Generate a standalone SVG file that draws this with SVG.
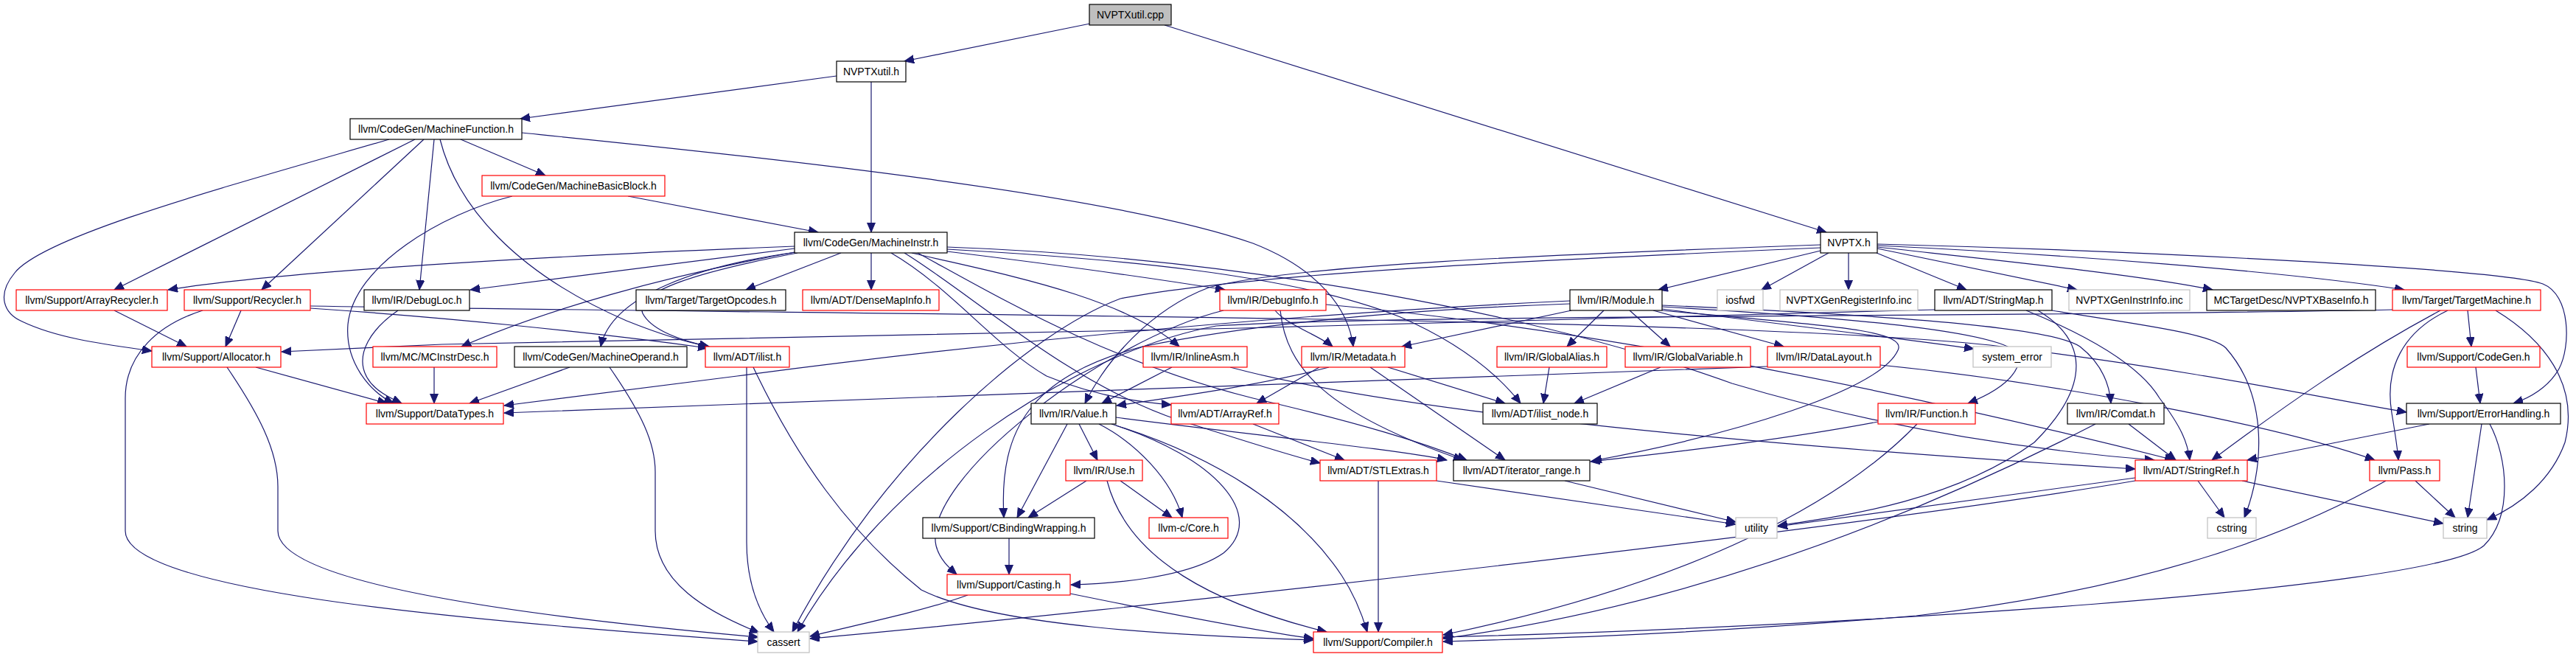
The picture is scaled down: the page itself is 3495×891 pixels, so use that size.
<svg xmlns="http://www.w3.org/2000/svg" width="3495" height="891" viewBox="0 0 3495 891">
<style>
rect{fill:#fff;stroke-width:1.2}
.nb rect{stroke:#000}
.nr rect{stroke:#ff0000}
.ng rect{stroke:#bfbfbf}
.nc rect{fill:#bfbfbf;stroke:#000}
text{font-family:"Liberation Sans",Arial,sans-serif;font-size:14px;text-anchor:middle;fill:#000}
#edges path{fill:none;stroke:#191970;stroke-width:1.2;marker-end:url(#a)}
</style>
<defs>
<marker id="a" markerUnits="userSpaceOnUse" markerWidth="14" markerHeight="12" refX="13" refY="5.5" orient="auto"><path d="M0,0 L13,5.5 L0,11 z" fill="#191970" stroke="#191970" stroke-width="1"/></marker>
</defs>
<rect x="0" y="0" width="3495" height="891" style="fill:#fff;stroke:none"/>
<g id="edges">
<path d="M1479,32 L1227,83"/>
<path d="M1580,34 L2478,315"/>
<path d="M1135,103 L706,161"/>
<path d="M1182,111 L1182,315"/>
<path d="M625,189 L740,238"/>
<path d="M563,189 L155,393"/>
<path d="M575,189 L355,393"/>
<path d="M589,189 L569,393"/>
<path d="M528,189 C300,255 60,320 20,370 C-5,400 5,425 30,436 C80,460 150,468 206,476"/>
<path d="M597,189 C620,280 700,370 850,435 C900,455 935,465 962,470"/>
<path d="M708,180 C1000,210 1500,260 1700,330 C1790,365 1830,420 1836,470"/>
<path d="M852,266 L1110,315"/>
<path d="M695,266 C600,290 480,360 472,440 C468,490 500,530 534,547"/>
<path d="M540,421 C505,445 480,480 498,512 C508,530 530,540 545,547"/>
<path d="M1078,334 C800,345 400,365 228,393"/>
<path d="M1078,337 L638,393"/>
<path d="M1141,343 L1012,393"/>
<path d="M1182,343 L1182,393"/>
<path d="M1285,341 C1400,355 1550,375 1662,393"/>
<path d="M1078,342 C900,375 740,420 626,470"/>
<path d="M1080,342 C950,360 830,400 815,470"/>
<path d="M1082,343 C950,368 860,395 872,425 C885,450 930,463 962,470"/>
<path d="M1237,343 C1350,370 1520,400 1600,470"/>
<path d="M1209,343 C1290,390 1350,470 1420,510 C1480,535 1540,545 1589,549"/>
<path d="M1227,343 C1320,400 1450,520 1600,570 C1680,595 1740,615 1791,628"/>
<path d="M1245,343 C1350,400 1500,490 1700,540 C1850,575 1930,600 1990,624"/>
<path d="M1285,338 C1500,350 1750,370 1900,430 C1980,465 2030,505 2063,547"/>
<path d="M1285,335 C1700,350 2100,430 2350,520 C2550,580 2750,610 2923,624"/>
<path d="M2481,343 L2390,393"/>
<path d="M2508,343 L2508,393"/>
<path d="M2546,343 L2668,393"/>
<path d="M2547,337 L2818,393"/>
<path d="M2547,335 C2700,352 2900,372 3002,393"/>
<path d="M2547,333 C2800,345 3100,368 3262,393"/>
<path d="M2547,331 C2900,340 3400,365 3450,385 C3488,400 3488,470 3472,500 C3458,525 3432,540 3410,547"/>
<path d="M2470,340 L2250,393"/>
<path d="M2470,332 C2100,345 1750,360 1640,390 C1560,420 1500,490 1472,547"/>
<path d="M2470,336 C2100,352 1700,370 1520,405 C1400,450 1200,620 1075,857"/>
<path d="M155,421 L253,470"/>
<path d="M327,421 L306,470"/>
<path d="M275,421 C215,440 170,480 170,540 L170,720 C170,800 600,840 1028,870"/>
<path d="M421,418 C600,430 800,450 960,472"/>
<path d="M421,415 C1200,428 2300,428 2700,468 C3000,505 3150,540 3265,559"/>
<path d="M347,498 L525,547"/>
<path d="M308,498 C350,560 377,610 377,660 L377,720 C377,790 700,835 1029,864"/>
<path d="M589,498 L589,547"/>
<path d="M773,498 L637,547"/>
<path d="M827,498 C870,560 889,600 889,640 L889,720 C889,790 960,830 1030,858"/>
<path d="M1013,498 L1013,735 C1013,790 1030,830 1050,857"/>
<path d="M1022,498 C1080,620 1150,720 1250,800 C1350,850 1600,862 1782,868"/>
<path d="M1730,421 C1745,440 1790,455 1808,470"/>
<path d="M1737,421 C1745,500 1800,560 1985,624"/>
<path d="M1660,421 C1500,460 1250,650 1270,740 C1275,760 1290,772 1298,779"/>
<path d="M1799,413 C2100,440 2500,510 2950,624"/>
<path d="M2132,421 L1902,470"/>
<path d="M2176,421 L2126,470"/>
<path d="M2211,421 L2266,470"/>
<path d="M2243,421 L2420,470"/>
<path d="M2255,419 C2400,438 2550,455 2678,473"/>
<path d="M2255,416 C2500,430 2740,450 2740,485 C2738,515 2700,535 2670,547"/>
<path d="M2255,414 C2500,425 2780,440 2822,470 C2850,492 2862,520 2864,547"/>
<path d="M2255,421 C2450,440 2590,445 2575,475 C2550,530 2350,590 2160,625"/>
<path d="M2130,412 C1900,420 1700,440 1550,470 C1400,510 1355,580 1362,702"/>
<path d="M2130,408 C1700,428 1300,470 1000,510 L684,550"/>
<path d="M2625,420 C2000,440 1200,456 600,467 L382,477"/>
<path d="M2749,421 C2820,450 2900,490 2930,540 C2960,580 2968,600 2971,624"/>
<path d="M2784,421 C2900,440 3000,452 3020,472 C3080,540 3070,640 3045,702"/>
<path d="M2765,421 C2830,460 2840,520 2760,600 C2650,680 2500,700 2412,713"/>
<path d="M3348,421 L3353,470"/>
<path d="M3311,421 C3200,480 3100,550 3001,624"/>
<path d="M3321,421 C3260,450 3235,500 3245,560 C3250,590 3253,610 3254,624"/>
<path d="M3386,421 C3450,460 3500,520 3480,600 C3462,650 3420,685 3374,705"/>
<path d="M3246,420 C2800,430 1900,426 1650,442 C1450,480 1200,650 1082,857"/>
<path d="M3359,498 L3365,547"/>
<path d="M3296,575 L3049,624"/>
<path d="M3367,575 L3348,702"/>
<path d="M3378,575 C3402,620 3410,700 3370,740 C3300,800 2500,850 1958,864"/>
<path d="M3277,652 L3331,702"/>
<path d="M3237,652 C3100,730 2900,800 2600,835 C2300,860 2100,866 1958,870"/>
<path d="M2982,652 L3018,702"/>
<path d="M3042,652 L3315,710"/>
<path d="M2897,648 L2412,714"/>
<path d="M2897,652 C2500,720 1500,830 1099,866"/>
<path d="M2601,575 C2500,680 2300,790 1958,861"/>
<path d="M2548,572 C2400,600 2250,615 2158,626"/>
<path d="M2843,575 C2600,700 2300,820 1958,866"/>
<path d="M2888,575 L2952,624"/>
<path d="M2102,498 L2094,547"/>
<path d="M2253,498 L2136,547"/>
<path d="M2398,497 C1900,515 1200,540 684,560"/>
<path d="M2551,495 C2800,520 3100,580 3222,624"/>
<path d="M1803,498 C1700,525 1580,540 1515,550"/>
<path d="M1790,498 L1705,547"/>
<path d="M1883,498 L2042,547"/>
<path d="M1859,498 L2042,624"/>
<path d="M1590,498 L1495,547"/>
<path d="M1669,498 C1900,560 2400,605 2897,636"/>
<path d="M1448,575 L1380,702"/>
<path d="M1464,575 L1489,624"/>
<path d="M1491,575 C1540,600 1590,650 1604,702"/>
<path d="M1508,575 C1650,620 1720,700 1660,750 C1610,785 1500,792 1453,793"/>
<path d="M1514,577 C1650,620 1760,690 1820,780 C1840,810 1850,840 1855,857"/>
<path d="M1514,566 C1700,590 1900,610 1963,624"/>
<path d="M1474,652 L1395,702"/>
<path d="M1520,652 L1590,702"/>
<path d="M1502,652 C1530,760 1650,820 1800,857"/>
<path d="M1369,730 L1369,779"/>
<path d="M1313,807 C1250,830 1150,850 1099,863"/>
<path d="M1452,805 C1550,825 1700,855 1782,866"/>
<path d="M1700,575 L1824,624"/>
<path d="M1870,652 L1870,857"/>
<path d="M1949,652 L2355,711"/>
<path d="M2123,652 L2355,708"/>
</g>
<g id="n_cpp" class="nc"><rect x="1478" y="6" width="111" height="28"/><text x="1533.5" y="25">NVPTXutil.cpp</text></g>
<g id="n_utilh" class="nb"><rect x="1135" y="83" width="94" height="28"/><text x="1182" y="102">NVPTXutil.h</text></g>
<g id="n_mf" class="nb"><rect x="475" y="161" width="233" height="28"/><text x="591.5" y="180">llvm/CodeGen/MachineFunction.h</text></g>
<g id="n_mbb" class="nr"><rect x="654" y="238" width="248" height="28"/><text x="778" y="257">llvm/CodeGen/MachineBasicBlock.h</text></g>
<g id="n_mi" class="nb"><rect x="1078" y="315" width="207" height="28"/><text x="1181.5" y="334">llvm/CodeGen/MachineInstr.h</text></g>
<g id="n_nvptx" class="nb"><rect x="2470" y="315" width="77" height="28"/><text x="2508.5" y="334">NVPTX.h</text></g>
<g id="n_arrayrec" class="nr"><rect x="22" y="393" width="205" height="28"/><text x="124.5" y="412">llvm/Support/ArrayRecycler.h</text></g>
<g id="n_recycler" class="nr"><rect x="250" y="393" width="171" height="28"/><text x="335.5" y="412">llvm/Support/Recycler.h</text></g>
<g id="n_debugloc" class="nb"><rect x="494" y="393" width="143" height="28"/><text x="565.5" y="412">llvm/IR/DebugLoc.h</text></g>
<g id="n_targetopc" class="nb"><rect x="863" y="393" width="203" height="28"/><text x="964.5" y="412">llvm/Target/TargetOpcodes.h</text></g>
<g id="n_densemap" class="nr"><rect x="1089" y="393" width="185" height="28"/><text x="1181.5" y="412">llvm/ADT/DenseMapInfo.h</text></g>
<g id="n_debuginfo" class="nr"><rect x="1655" y="393" width="144" height="28"/><text x="1727" y="412">llvm/IR/DebugInfo.h</text></g>
<g id="n_module" class="nb"><rect x="2130" y="393" width="125" height="28"/><text x="2192.5" y="412">llvm/IR/Module.h</text></g>
<g id="n_iosfwd" class="ng"><rect x="2330" y="393" width="62" height="28"/><text x="2361" y="412">iosfwd</text></g>
<g id="n_genreg" class="ng"><rect x="2415" y="393" width="187" height="28"/><text x="2508.5" y="412">NVPTXGenRegisterInfo.inc</text></g>
<g id="n_stringmap" class="nb"><rect x="2625" y="393" width="159" height="28"/><text x="2704.5" y="412">llvm/ADT/StringMap.h</text></g>
<g id="n_geninstr" class="ng"><rect x="2807" y="393" width="164" height="28"/><text x="2889" y="412">NVPTXGenInstrInfo.inc</text></g>
<g id="n_baseinfo" class="nb"><rect x="2994" y="393" width="229" height="28"/><text x="3108.5" y="412">MCTargetDesc/NVPTXBaseInfo.h</text></g>
<g id="n_targetmachine" class="nr"><rect x="3246" y="393" width="201" height="28"/><text x="3346.5" y="412">llvm/Target/TargetMachine.h</text></g>
<g id="n_allocator" class="nr"><rect x="206" y="470" width="175" height="28"/><text x="293.5" y="489">llvm/Support/Allocator.h</text></g>
<g id="n_mcinstrdesc" class="nr"><rect x="506" y="470" width="168" height="28"/><text x="590" y="489">llvm/MC/MCInstrDesc.h</text></g>
<g id="n_machineoperand" class="nb"><rect x="698" y="470" width="234" height="28"/><text x="815" y="489">llvm/CodeGen/MachineOperand.h</text></g>
<g id="n_ilist" class="nr"><rect x="957" y="470" width="114" height="28"/><text x="1014" y="489">llvm/ADT/ilist.h</text></g>
<g id="n_inlineasm" class="nr"><rect x="1551" y="470" width="141" height="28"/><text x="1621.5" y="489">llvm/IR/InlineAsm.h</text></g>
<g id="n_metadata" class="nr"><rect x="1766" y="470" width="140" height="28"/><text x="1836" y="489">llvm/IR/Metadata.h</text></g>
<g id="n_globalalias" class="nr"><rect x="2031" y="470" width="149" height="28"/><text x="2105.5" y="489">llvm/IR/GlobalAlias.h</text></g>
<g id="n_globalvariable" class="nr"><rect x="2205" y="470" width="170" height="28"/><text x="2290" y="489">llvm/IR/GlobalVariable.h</text></g>
<g id="n_datalayout" class="nr"><rect x="2398" y="470" width="153" height="28"/><text x="2474.5" y="489">llvm/IR/DataLayout.h</text></g>
<g id="n_systemerror" class="ng"><rect x="2677" y="470" width="106" height="28"/><text x="2730" y="489">system_error</text></g>
<g id="n_codegen" class="nr"><rect x="3266" y="470" width="180" height="28"/><text x="3356" y="489">llvm/Support/CodeGen.h</text></g>
<g id="n_datatypes" class="nr"><rect x="497" y="547" width="186" height="28"/><text x="590" y="566">llvm/Support/DataTypes.h</text></g>
<g id="n_value" class="nb"><rect x="1399" y="547" width="115" height="28"/><text x="1456.5" y="566">llvm/IR/Value.h</text></g>
<g id="n_arrayref" class="nr"><rect x="1589" y="547" width="146" height="28"/><text x="1662" y="566">llvm/ADT/ArrayRef.h</text></g>
<g id="n_ilistnode" class="nb"><rect x="2012" y="547" width="155" height="28"/><text x="2089.5" y="566">llvm/ADT/ilist_node.h</text></g>
<g id="n_function" class="nr"><rect x="2548" y="547" width="132" height="28"/><text x="2614" y="566">llvm/IR/Function.h</text></g>
<g id="n_comdat" class="nb"><rect x="2805" y="547" width="131" height="28"/><text x="2870.5" y="566">llvm/IR/Comdat.h</text></g>
<g id="n_errorhandling" class="nb"><rect x="3265" y="547" width="209" height="28"/><text x="3369.5" y="566">llvm/Support/ErrorHandling.h</text></g>
<g id="n_use" class="nr"><rect x="1446" y="624" width="104" height="28"/><text x="1498" y="643">llvm/IR/Use.h</text></g>
<g id="n_stlextras" class="nr"><rect x="1791" y="624" width="158" height="28"/><text x="1870" y="643">llvm/ADT/STLExtras.h</text></g>
<g id="n_iterrange" class="nb"><rect x="1972" y="624" width="185" height="28"/><text x="2064.5" y="643">llvm/ADT/iterator_range.h</text></g>
<g id="n_stringref" class="nr"><rect x="2897" y="624" width="152" height="28"/><text x="2973" y="643">llvm/ADT/StringRef.h</text></g>
<g id="n_pass" class="nr"><rect x="3215" y="624" width="95" height="28"/><text x="3262.5" y="643">llvm/Pass.h</text></g>
<g id="n_cbinding" class="nb"><rect x="1252" y="702" width="233" height="28"/><text x="1368.5" y="721">llvm/Support/CBindingWrapping.h</text></g>
<g id="n_core" class="nr"><rect x="1559" y="702" width="107" height="28"/><text x="1612.5" y="721">llvm-c/Core.h</text></g>
<g id="n_utility" class="ng"><rect x="2355" y="702" width="56" height="28"/><text x="2383" y="721">utility</text></g>
<g id="n_cstring" class="ng"><rect x="2995" y="702" width="66" height="28"/><text x="3028" y="721">cstring</text></g>
<g id="n_string" class="ng"><rect x="3315" y="702" width="59" height="28"/><text x="3344.5" y="721">string</text></g>
<g id="n_casting" class="nr"><rect x="1285" y="779" width="167" height="28"/><text x="1368.5" y="798">llvm/Support/Casting.h</text></g>
<g id="n_cassert" class="ng"><rect x="1028" y="857" width="70" height="28"/><text x="1063" y="876">cassert</text></g>
<g id="n_compiler" class="nr"><rect x="1782" y="857" width="175" height="28"/><text x="1869.5" y="876">llvm/Support/Compiler.h</text></g>
</svg>
